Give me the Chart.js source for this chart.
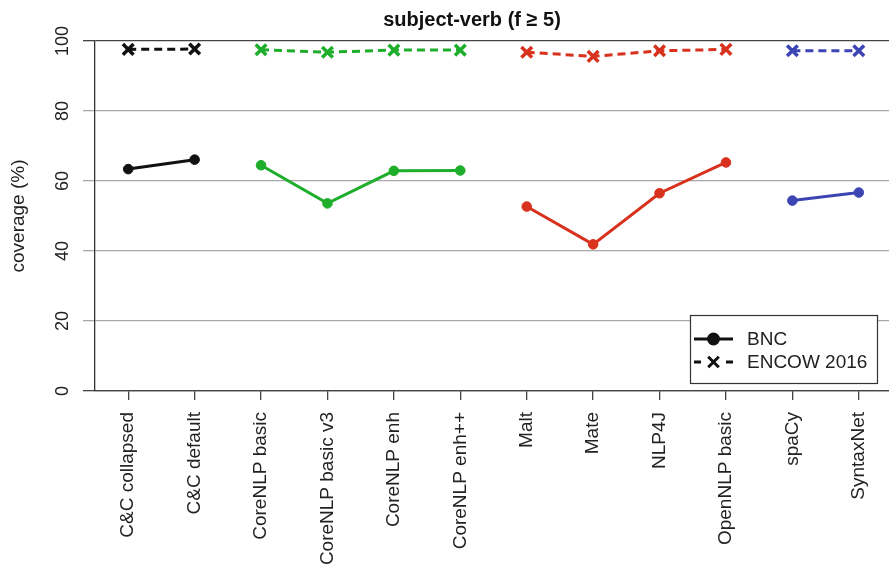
<!DOCTYPE html>
<html>
<head>
<meta charset="utf-8">
<script src="https://cdn.jsdelivr.net/npm/chart.js@4/dist/chart.umd.min.js"></script>
<style>
  html, body { margin: 0; padding: 0; background: #fff; overflow: hidden; }
  #wrap { width: 889px; height: 566px; overflow: hidden; }
</style>
</head>
<body>
<div id="wrap"><canvas id="myChart" width="903" height="566"></canvas></div>
<script>
var parsers = ['C&C collapsed', 'C&C default', 'CoreNLP basic', 'CoreNLP basic v3', 'CoreNLP enh', 'CoreNLP enh++',
    'Malt', 'Mate', 'NLP4J', 'OpenNLP basic', 'spaCy', 'SyntaxNet'];
// parser family of every column (lines only join within a family)
var family = [0, 0, 1, 1, 1, 1, 2, 2, 2, 2, 3, 3];
var familyColors = ['#111111', '#1fae2c', '#d8321e', '#3d45b5'];
var bnc = [63.4, 66.1, 64.5, 53.6, 62.9, 63.0, 52.7, 41.9, 56.5, 65.3, 54.4, 56.7];
var encow = [97.6, 97.7, 97.5, 96.8, 97.4, 97.4, 96.8, 95.6, 97.2, 97.6, 97.2, 97.2];
var corpora = ['BNC', 'ENCOW 2016'];
var yTicks = [0, 20, 40, 60, 80, 100];
var chartTitle = 'subject-verb (f \u2265 5)';
var yTitle = 'coverage (%)';

var FONT = '"Liberation Sans", Arial, sans-serif';
var chart;

function family_data(values, f) {
    return values.map(function (v, i) { return family[i] === f ? v : null; });
}

function build_datasets() {
    let sets = [];
    familyColors.forEach(function (col, f) {
        sets.push({
            label: corpora[0],
            data: family_data(bnc, f),
            borderColor: col,
            backgroundColor: col,
            borderWidth: 3,
            pointStyle: 'circle',
            pointRadius: 4.8,
            pointBorderWidth: 1,
            pointBackgroundColor: col,
            spanGaps: false,
        });
        sets.push({
            label: corpora[1],
            data: family_data(encow, f),
            borderColor: col,
            backgroundColor: col,
            borderWidth: 3,
            borderDash: [8, 5],
            pointStyle: 'crossRot',
            pointRadius: 7.5,
            pointBorderWidth: 3.5,
            spanGaps: false,
        });
    });
    return sets;
}

// title and the boxed legend in the lower right
var decorations = {
    id: 'decorations',
    afterDraw: function (c) {
        let ctx = c.ctx;
        ctx.save();
        ctx.fillStyle = '#111';
        ctx.font = 'bold 20px ' + FONT;
        ctx.textAlign = 'center';
        ctx.textBaseline = 'middle';
        ctx.fillText(chartTitle, 472, 20);

        let bx = 690, by = 315, bw = 187, bh = 68;
        ctx.fillStyle = '#fff';
        ctx.fillRect(bx, by, bw, bh);
        ctx.strokeStyle = '#333';
        ctx.lineWidth = 1.2;
        ctx.strokeRect(bx + 0.5, by + 0.5, bw, bh);

        let rows = [by + 24, by + 47];
        ctx.strokeStyle = '#111';
        ctx.lineWidth = 3;
        ctx.beginPath();
        ctx.moveTo(694, rows[0]);
        ctx.lineTo(733, rows[0]);
        ctx.stroke();
        ctx.beginPath();
        ctx.moveTo(694, rows[1]);
        ctx.lineTo(701, rows[1]);
        ctx.moveTo(726, rows[1]);
        ctx.lineTo(733, rows[1]);
        ctx.stroke();
        ctx.fillStyle = '#111';
        Chart.helpers.drawPoint(ctx, { pointStyle: 'circle', radius: 5, borderWidth: 1 }, 713.5, rows[0]);
        Chart.helpers.drawPoint(ctx, { pointStyle: 'crossRot', radius: 7.5, borderWidth: 3.5 }, 713.5, rows[1]);

        ctx.font = '19px ' + FONT;
        ctx.textAlign = 'left';
        ctx.fillStyle = '#222';
        corpora.forEach(function (name, i) {
            ctx.fillText(name, 747, rows[i] + 1);
        });
        ctx.restore();
    }
};

function draw_plot() {
    var ctx = document.getElementById('myChart');
    if (typeof chart != 'undefined') {
        chart.destroy();
    }
    chart = new Chart(ctx, {
        type: 'line',
        data: {
            labels: parsers,
            datasets: build_datasets(),
        },
        options: {
            responsive: false,
            animation: false,
            layout: { padding: { top: 41, right: 1, left: 0, bottom: 0 } },
            scales: {
                x: {
                    type: 'category',
                    offset: true,
                    afterFit: function (s) { s.height = 175; },
                    grid: {
                        drawOnChartArea: false,
                        drawTicks: true,
                        tickLength: 9,
                        color: '#444',
                        lineWidth: 1.3,
                    },
                    border: { display: true, color: '#444', width: 1.3 },
                    ticks: {
                        minRotation: 90,
                        maxRotation: 90,
                        autoSkip: false,
                        padding: 12,
                        color: '#222',
                        font: { size: 19, family: FONT },
                    },
                },
                y: {
                    min: 0,
                    max: 100,
                    afterFit: function (s) { s.width = 95; },
                    afterBuildTicks: function (s) {
                        s.ticks = yTicks.map(function (v) { return { value: v }; });
                    },
                    grid: {
                        drawTicks: true,
                        tickLength: 12,
                        lineWidth: 1.3,
                        color: function (c) {
                            let v = c.tick ? c.tick.value : null;
                            return (v === 0 || v === 100) ? '#444' : '#a8a8a8';
                        },
                    },
                    border: { display: true, color: '#333', width: 1.3 },
                    ticks: {
                        minRotation: 90,
                        maxRotation: 90,
                        crossAlign: 'center',
                        padding: 5,
                        color: '#222',
                        font: { size: 18, family: FONT },
                    },
                    title: {
                        display: true,
                        text: yTitle,
                        color: '#222',
                        padding: { top: 7, bottom: 0 },
                        font: { size: 19, family: FONT },
                    },
                },
            },
            plugins: {
                legend: { display: false },
                title: { display: false },
                tooltip: { enabled: false },
            },
        },
        plugins: [decorations],
    });
}

draw_plot();
</script>
</body>
</html>
